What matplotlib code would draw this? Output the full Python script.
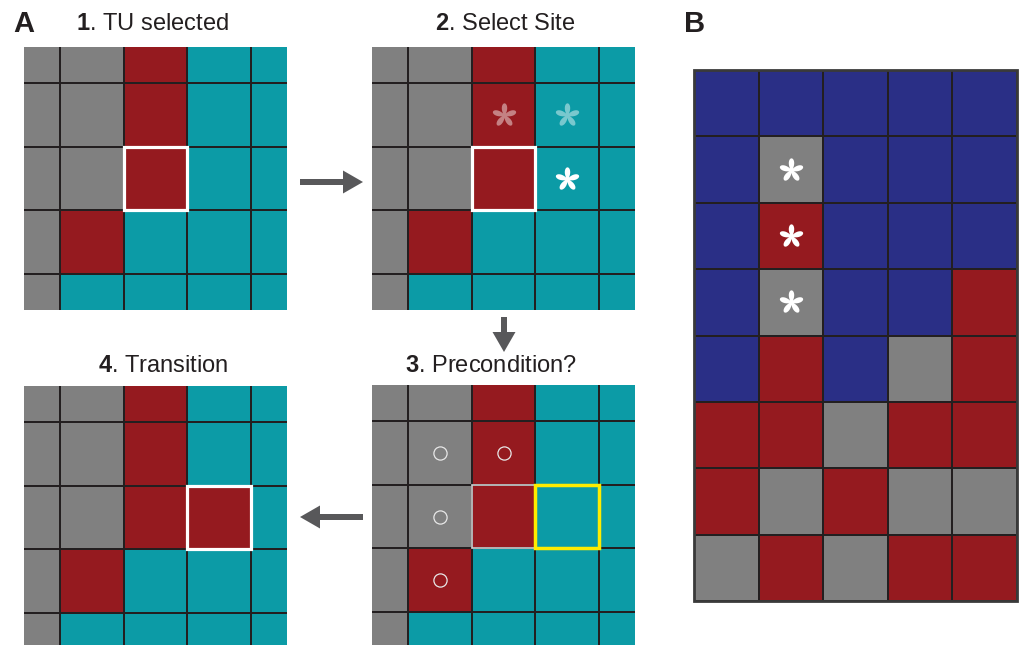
import numpy as np
import matplotlib
matplotlib.use("Agg")
from matplotlib import pyplot as plt
from matplotlib.colors import ListedColormap
from matplotlib.patches import Rectangle
from matplotlib.path import Path

plt.rcParams['font.family'] = ['Liberation Sans', 'DejaVu Sans']
plt.rcParams['mathtext.fontset'] = 'custom'
plt.rcParams['mathtext.rm'] = 'Liberation Sans'
plt.rcParams['mathtext.bf'] = 'Liberation Sans:bold'

# cell states: 0 = gray, 1 = red, 2 = teal, 3 = blue
state_colors = ['#808080', '#951a1f', '#0c9ba6', '#2a2f86']
line_col = '#231f20'

# panel A lattice before / after the transition
grid_before = [[0, 0, 1, 2, 2],
               [0, 0, 1, 2, 2],
               [0, 0, 1, 2, 2],
               [0, 1, 2, 2, 2],
               [0, 2, 2, 2, 2]]
grid_after = [[0, 0, 1, 2, 2],
              [0, 0, 1, 2, 2],
              [0, 0, 1, 1, 2],
              [0, 1, 2, 2, 2],
              [0, 2, 2, 2, 2]]
selected_tu = (2, 2)     # (row, col)
target_site = (2, 3)
candidate_sites = [(1, 2), (1, 3), (2, 3)]
candidate_alpha = [0.45, 0.45, 1.0]
precond_cells = [(1, 1), (1, 2), (2, 1), (3, 1)]

# panel B lattice
grid_b = [[3, 3, 3, 3, 3],
          [3, 0, 3, 3, 3],
          [3, 1, 3, 3, 3],
          [3, 0, 3, 3, 1],
          [3, 1, 3, 0, 1],
          [1, 1, 0, 1, 1],
          [1, 0, 1, 0, 0],
          [0, 1, 0, 1, 1]]
b_marked = [(1, 1), (2, 1), (3, 1)]

titles = [r'$\mathbf{1}$. TU selected', r'$\mathbf{2}$. Select Site',
          r'$\mathbf{3}$. Precondition?', r'$\mathbf{4}$. Transition']

W, H = 1022, 645
fig = plt.figure(figsize=(W / 100, H / 100), dpi=100)
cmap = ListedColormap(state_colors)

# five-petal asterisk marker as one closed outline
th = np.linspace(0, 2 * np.pi, 400)
phi = th - np.pi / 2
rad = 0.2 + 0.8 * np.abs(np.cos(2.5 * phi)) ** 1.3
asterisk = Path(np.column_stack([rad * np.cos(th), rad * np.sin(th)]))


def px_axes(x0, y0, w, h):
    return fig.add_axes([x0 / W, 1 - (y0 + h) / H, w / W, h / H])


def draw_grid(ax, grid, lo, hi_x, hi_y):
    g = np.array(grid)
    ny, nx = g.shape
    ax.pcolormesh(np.arange(nx + 1), np.arange(ny + 1), g, cmap=cmap,
                  vmin=-0.5, vmax=3.5, edgecolors=line_col, linewidth=1.35)
    ax.set_xlim(lo, hi_x)
    ax.set_ylim(hi_y, lo)
    ax.axis('off')


def box(ax, rc, color, lw):
    r, c = rc
    ax.add_patch(Rectangle((c, r), 1, 1, fill=False, ec=color, lw=lw, zorder=4))


def star(ax, rc, color, alpha=1.0, ms=17.5):
    r, c = rc
    ax.plot(c + 0.5, r + 0.5, marker=asterisk, ms=ms, color=color, alpha=alpha,
            mec='none', zorder=5)


# panel A
a1 = px_axes(24, 47, 263, 263)
draw_grid(a1, grid_before, 0.44, 4.56, 4.56)
box(a1, selected_tu, 'white', 2.3)

a2 = px_axes(372, 47, 263, 263)
draw_grid(a2, grid_before, 0.44, 4.56, 4.56)
box(a2, selected_tu, 'white', 2.3)
for rc, al in zip(candidate_sites, candidate_alpha):
    star(a2, rc, 'white', al)

a3 = px_axes(372, 385, 263, 263)
draw_grid(a3, grid_before, 0.44, 4.56, 4.56)
box(a3, selected_tu, '#cfcfcf', 1.2)
box(a3, target_site, '#ffec00', 2.5)
for r, c in precond_cells:
    a3.plot(c + 0.5, r + 0.5, marker='o', ms=9.5, mfc='none', mec='#e8e8e8',
            mew=0.9, zorder=5)

a4 = px_axes(24, 386, 263, 263)
draw_grid(a4, grid_after, 0.44, 4.56, 4.56)
box(a4, target_site, 'white', 2.3)

# panel B
b = px_axes(694, 70, 323, 531)
draw_grid(b, grid_b, 0, 5, 8)
for rc in b_marked:
    star(b, rc, 'white')
b.add_patch(Rectangle((0, 0), 5, 8, fill=False, ec='#3a3a3a', lw=2, zorder=4,
                      clip_on=False))

# overlay for labels and arrows
ov = fig.add_axes([0, 0, 1, 1], zorder=10)
ov.set_xlim(0, W)
ov.set_ylim(H, 0)
ov.axis('off')
ov.patch.set_alpha(0)

ov.text(13, 32, 'A', fontsize=21, fontweight='bold', color='#231f20')
ov.text(684, 32, 'B', fontsize=21, fontweight='bold', color='#231f20')
title_pos = [(152, 30), (505, 30), (491, 372), (163, 372)]
for t, (x, y) in zip(titles, title_pos):
    ov.text(x, y, t, fontsize=17, ha='center', va='baseline', color='#231f20')

arrow_col = '#58585a'
ov.arrow(300, 182, 63, 0, width=6, head_width=23, head_length=20,
         length_includes_head=True, color=arrow_col, lw=0)
ov.arrow(504, 317, 0, 35, width=6, head_width=23, head_length=20,
         length_includes_head=True, color=arrow_col, lw=0)
ov.arrow(363, 517, -63, 0, width=6, head_width=23, head_length=20,
         length_includes_head=True, color=arrow_col, lw=0)

fig.savefig('out.png', dpi=100)
